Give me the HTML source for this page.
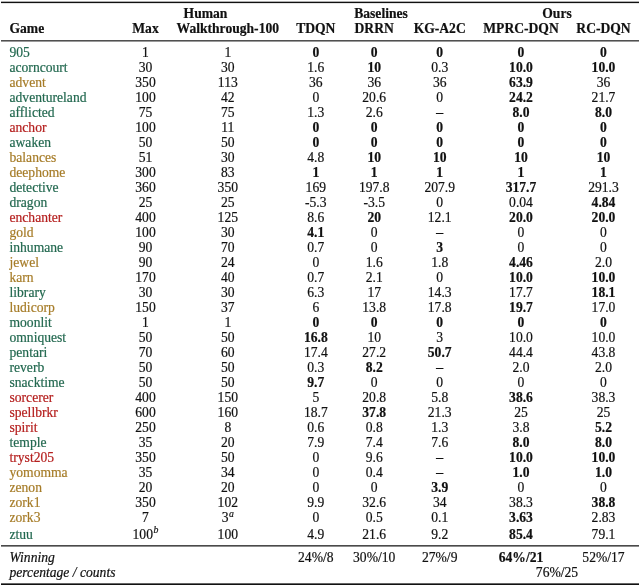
<!DOCTYPE html><html><head><meta charset="utf-8"><style>
html,body{margin:0;padding:0;background:#fff;}
body{width:640px;height:585px;position:relative;overflow:hidden;font-family:"Liberation Serif",serif;font-size:13.6px;color:#111;}
.t{position:absolute;white-space:nowrap;line-height:1;-webkit-text-stroke:0.2px currentColor;}
#w{position:absolute;left:0;top:0;width:640px;height:585px;will-change:transform;}
.c{transform:translateX(-50%);}
.b{font-weight:bold;}
.d{-webkit-text-stroke:0.5px currentColor;}
.i{font-style:italic;}
.r{position:absolute;left:0.7px;width:638.3px;background:#111;}
sup{font-size:72%;font-style:italic;vertical-align:baseline;position:relative;top:-0.52em;line-height:0;margin-left:0.6px;}

</style></head><body><div id="w">
<div class="r" style="top:1px;height:1px;background:#b0b0b0"></div>
<div class="r" style="top:2px;height:1px;background:#111"></div>
<div class="r" style="top:3px;height:1px;background:#e4e4e4"></div>
<div class="r" style="top:40px;height:1px;background:#505050"></div>
<div class="r" style="top:41px;height:1px;background:#9a9a9a"></div>
<div class="r" style="top:545px;height:1px;background:#4a4a4a"></div>
<div class="r" style="top:546px;height:1px;background:#8c8c8c"></div>
<div class="r" style="top:583px;height:1px;background:#666"></div>
<div class="r" style="top:584px;height:1px;background:#111"></div>
<div class="t b" style="left:9.5px;top:22.28px;">Game</div>
<div class="t b c" style="left:145.5px;top:22.28px;">Max</div>
<div class="t b c" style="left:205.5px;top:7.28px;">Human</div>
<div class="t b c" style="left:227.8px;top:22.28px;">Walkthrough-100</div>
<div class="t b c" style="left:381px;top:7.28px;">Baselines</div>
<div class="t b c" style="left:315.8px;top:22.28px;">TDQN</div>
<div class="t b c" style="left:374.2px;top:22.28px;">DRRN</div>
<div class="t b c" style="left:439.7px;top:22.28px;">KG-A2C</div>
<div class="t b c" style="left:557px;top:7.28px;">Ours</div>
<div class="t b c" style="left:521px;top:22.28px;">MPRC-DQN</div>
<div class="t b c" style="left:603.5px;top:22.28px;">RC-DQN</div>
<div class="t " style="left:9.5px;top:45.50px;color:#22684f">905</div>
<div class="t c" style="left:145.5px;top:45.50px;">1</div>
<div class="t c" style="left:227.8px;top:45.50px;">1</div>
<div class="t c b" style="left:315.8px;top:45.50px;">0</div>
<div class="t c b" style="left:374.2px;top:45.50px;">0</div>
<div class="t c b" style="left:439.7px;top:45.50px;">0</div>
<div class="t c b" style="left:521px;top:45.50px;">0</div>
<div class="t c b" style="left:603.5px;top:45.50px;">0</div>
<div class="t " style="left:9.5px;top:60.53px;color:#22684f">acorncourt</div>
<div class="t c" style="left:145.5px;top:60.53px;">30</div>
<div class="t c" style="left:227.8px;top:60.53px;">30</div>
<div class="t c" style="left:315.8px;top:60.53px;">1.6</div>
<div class="t c b" style="left:374.2px;top:60.53px;">10</div>
<div class="t c" style="left:439.7px;top:60.53px;">0.3</div>
<div class="t c b" style="left:521px;top:60.53px;">10.0</div>
<div class="t c b" style="left:603.5px;top:60.53px;">10.0</div>
<div class="t " style="left:9.5px;top:75.56px;color:#a67c28">advent</div>
<div class="t c" style="left:145.5px;top:75.56px;">350</div>
<div class="t c" style="left:227.8px;top:75.56px;">113</div>
<div class="t c" style="left:315.8px;top:75.56px;">36</div>
<div class="t c" style="left:374.2px;top:75.56px;">36</div>
<div class="t c" style="left:439.7px;top:75.56px;">36</div>
<div class="t c b" style="left:521px;top:75.56px;">63.9</div>
<div class="t c" style="left:603.5px;top:75.56px;">36</div>
<div class="t " style="left:9.5px;top:90.59px;color:#22684f">adventureland</div>
<div class="t c" style="left:145.5px;top:90.59px;">100</div>
<div class="t c" style="left:227.8px;top:90.59px;">42</div>
<div class="t c" style="left:315.8px;top:90.59px;">0</div>
<div class="t c" style="left:374.2px;top:90.59px;">20.6</div>
<div class="t c" style="left:439.7px;top:90.59px;">0</div>
<div class="t c b" style="left:521px;top:90.59px;">24.2</div>
<div class="t c" style="left:603.5px;top:90.59px;">21.7</div>
<div class="t " style="left:9.5px;top:105.62px;color:#22684f">afflicted</div>
<div class="t c" style="left:145.5px;top:105.62px;">75</div>
<div class="t c" style="left:227.8px;top:105.62px;">75</div>
<div class="t c" style="left:315.8px;top:105.62px;">1.3</div>
<div class="t c" style="left:374.2px;top:105.62px;">2.6</div>
<div class="t c d" style="left:439.7px;top:105.62px;">–</div>
<div class="t c b" style="left:521px;top:105.62px;">8.0</div>
<div class="t c b" style="left:603.5px;top:105.62px;">8.0</div>
<div class="t " style="left:9.5px;top:120.65px;color:#b5201f">anchor</div>
<div class="t c" style="left:145.5px;top:120.65px;">100</div>
<div class="t c" style="left:227.8px;top:120.65px;">11</div>
<div class="t c b" style="left:315.8px;top:120.65px;">0</div>
<div class="t c b" style="left:374.2px;top:120.65px;">0</div>
<div class="t c b" style="left:439.7px;top:120.65px;">0</div>
<div class="t c b" style="left:521px;top:120.65px;">0</div>
<div class="t c b" style="left:603.5px;top:120.65px;">0</div>
<div class="t " style="left:9.5px;top:135.68px;color:#22684f">awaken</div>
<div class="t c" style="left:145.5px;top:135.68px;">50</div>
<div class="t c" style="left:227.8px;top:135.68px;">50</div>
<div class="t c b" style="left:315.8px;top:135.68px;">0</div>
<div class="t c b" style="left:374.2px;top:135.68px;">0</div>
<div class="t c b" style="left:439.7px;top:135.68px;">0</div>
<div class="t c b" style="left:521px;top:135.68px;">0</div>
<div class="t c b" style="left:603.5px;top:135.68px;">0</div>
<div class="t " style="left:9.5px;top:150.71px;color:#a67c28">balances</div>
<div class="t c" style="left:145.5px;top:150.71px;">51</div>
<div class="t c" style="left:227.8px;top:150.71px;">30</div>
<div class="t c" style="left:315.8px;top:150.71px;">4.8</div>
<div class="t c b" style="left:374.2px;top:150.71px;">10</div>
<div class="t c b" style="left:439.7px;top:150.71px;">10</div>
<div class="t c b" style="left:521px;top:150.71px;">10</div>
<div class="t c b" style="left:603.5px;top:150.71px;">10</div>
<div class="t " style="left:9.5px;top:165.74px;color:#a67c28">deephome</div>
<div class="t c" style="left:145.5px;top:165.74px;">300</div>
<div class="t c" style="left:227.8px;top:165.74px;">83</div>
<div class="t c b" style="left:315.8px;top:165.74px;">1</div>
<div class="t c b" style="left:374.2px;top:165.74px;">1</div>
<div class="t c b" style="left:439.7px;top:165.74px;">1</div>
<div class="t c b" style="left:521px;top:165.74px;">1</div>
<div class="t c b" style="left:603.5px;top:165.74px;">1</div>
<div class="t " style="left:9.5px;top:180.77px;color:#22684f">detective</div>
<div class="t c" style="left:145.5px;top:180.77px;">360</div>
<div class="t c" style="left:227.8px;top:180.77px;">350</div>
<div class="t c" style="left:315.8px;top:180.77px;">169</div>
<div class="t c" style="left:374.2px;top:180.77px;">197.8</div>
<div class="t c" style="left:439.7px;top:180.77px;">207.9</div>
<div class="t c b" style="left:521px;top:180.77px;">317.7</div>
<div class="t c" style="left:603.5px;top:180.77px;">291.3</div>
<div class="t " style="left:9.5px;top:195.80px;color:#22684f">dragon</div>
<div class="t c" style="left:145.5px;top:195.80px;">25</div>
<div class="t c" style="left:227.8px;top:195.80px;">25</div>
<div class="t c" style="left:315.8px;top:195.80px;">-5.3</div>
<div class="t c" style="left:374.2px;top:195.80px;">-3.5</div>
<div class="t c" style="left:439.7px;top:195.80px;">0</div>
<div class="t c" style="left:521px;top:195.80px;">0.04</div>
<div class="t c b" style="left:603.5px;top:195.80px;">4.84</div>
<div class="t " style="left:9.5px;top:210.83px;color:#b5201f">enchanter</div>
<div class="t c" style="left:145.5px;top:210.83px;">400</div>
<div class="t c" style="left:227.8px;top:210.83px;">125</div>
<div class="t c" style="left:315.8px;top:210.83px;">8.6</div>
<div class="t c b" style="left:374.2px;top:210.83px;">20</div>
<div class="t c" style="left:439.7px;top:210.83px;">12.1</div>
<div class="t c b" style="left:521px;top:210.83px;">20.0</div>
<div class="t c b" style="left:603.5px;top:210.83px;">20.0</div>
<div class="t " style="left:9.5px;top:225.86px;color:#a67c28">gold</div>
<div class="t c" style="left:145.5px;top:225.86px;">100</div>
<div class="t c" style="left:227.8px;top:225.86px;">30</div>
<div class="t c b" style="left:315.8px;top:225.86px;">4.1</div>
<div class="t c" style="left:374.2px;top:225.86px;">0</div>
<div class="t c d" style="left:439.7px;top:225.86px;">–</div>
<div class="t c" style="left:521px;top:225.86px;">0</div>
<div class="t c" style="left:603.5px;top:225.86px;">0</div>
<div class="t " style="left:9.5px;top:240.89px;color:#22684f">inhumane</div>
<div class="t c" style="left:145.5px;top:240.89px;">90</div>
<div class="t c" style="left:227.8px;top:240.89px;">70</div>
<div class="t c" style="left:315.8px;top:240.89px;">0.7</div>
<div class="t c" style="left:374.2px;top:240.89px;">0</div>
<div class="t c b" style="left:439.7px;top:240.89px;">3</div>
<div class="t c" style="left:521px;top:240.89px;">0</div>
<div class="t c" style="left:603.5px;top:240.89px;">0</div>
<div class="t " style="left:9.5px;top:255.92px;color:#a67c28">jewel</div>
<div class="t c" style="left:145.5px;top:255.92px;">90</div>
<div class="t c" style="left:227.8px;top:255.92px;">24</div>
<div class="t c" style="left:315.8px;top:255.92px;">0</div>
<div class="t c" style="left:374.2px;top:255.92px;">1.6</div>
<div class="t c" style="left:439.7px;top:255.92px;">1.8</div>
<div class="t c b" style="left:521px;top:255.92px;">4.46</div>
<div class="t c" style="left:603.5px;top:255.92px;">2.0</div>
<div class="t " style="left:9.5px;top:270.95px;color:#a67c28">karn</div>
<div class="t c" style="left:145.5px;top:270.95px;">170</div>
<div class="t c" style="left:227.8px;top:270.95px;">40</div>
<div class="t c" style="left:315.8px;top:270.95px;">0.7</div>
<div class="t c" style="left:374.2px;top:270.95px;">2.1</div>
<div class="t c" style="left:439.7px;top:270.95px;">0</div>
<div class="t c b" style="left:521px;top:270.95px;">10.0</div>
<div class="t c b" style="left:603.5px;top:270.95px;">10.0</div>
<div class="t " style="left:9.5px;top:285.98px;color:#22684f">library</div>
<div class="t c" style="left:145.5px;top:285.98px;">30</div>
<div class="t c" style="left:227.8px;top:285.98px;">30</div>
<div class="t c" style="left:315.8px;top:285.98px;">6.3</div>
<div class="t c" style="left:374.2px;top:285.98px;">17</div>
<div class="t c" style="left:439.7px;top:285.98px;">14.3</div>
<div class="t c" style="left:521px;top:285.98px;">17.7</div>
<div class="t c b" style="left:603.5px;top:285.98px;">18.1</div>
<div class="t " style="left:9.5px;top:301.01px;color:#a67c28">ludicorp</div>
<div class="t c" style="left:145.5px;top:301.01px;">150</div>
<div class="t c" style="left:227.8px;top:301.01px;">37</div>
<div class="t c" style="left:315.8px;top:301.01px;">6</div>
<div class="t c" style="left:374.2px;top:301.01px;">13.8</div>
<div class="t c" style="left:439.7px;top:301.01px;">17.8</div>
<div class="t c b" style="left:521px;top:301.01px;">19.7</div>
<div class="t c" style="left:603.5px;top:301.01px;">17.0</div>
<div class="t " style="left:9.5px;top:316.04px;color:#22684f">moonlit</div>
<div class="t c" style="left:145.5px;top:316.04px;">1</div>
<div class="t c" style="left:227.8px;top:316.04px;">1</div>
<div class="t c b" style="left:315.8px;top:316.04px;">0</div>
<div class="t c b" style="left:374.2px;top:316.04px;">0</div>
<div class="t c b" style="left:439.7px;top:316.04px;">0</div>
<div class="t c b" style="left:521px;top:316.04px;">0</div>
<div class="t c b" style="left:603.5px;top:316.04px;">0</div>
<div class="t " style="left:9.5px;top:331.07px;color:#22684f">omniquest</div>
<div class="t c" style="left:145.5px;top:331.07px;">50</div>
<div class="t c" style="left:227.8px;top:331.07px;">50</div>
<div class="t c b" style="left:315.8px;top:331.07px;">16.8</div>
<div class="t c" style="left:374.2px;top:331.07px;">10</div>
<div class="t c" style="left:439.7px;top:331.07px;">3</div>
<div class="t c" style="left:521px;top:331.07px;">10.0</div>
<div class="t c" style="left:603.5px;top:331.07px;">10.0</div>
<div class="t " style="left:9.5px;top:346.10px;color:#22684f">pentari</div>
<div class="t c" style="left:145.5px;top:346.10px;">70</div>
<div class="t c" style="left:227.8px;top:346.10px;">60</div>
<div class="t c" style="left:315.8px;top:346.10px;">17.4</div>
<div class="t c" style="left:374.2px;top:346.10px;">27.2</div>
<div class="t c b" style="left:439.7px;top:346.10px;">50.7</div>
<div class="t c" style="left:521px;top:346.10px;">44.4</div>
<div class="t c" style="left:603.5px;top:346.10px;">43.8</div>
<div class="t " style="left:9.5px;top:361.13px;color:#22684f">reverb</div>
<div class="t c" style="left:145.5px;top:361.13px;">50</div>
<div class="t c" style="left:227.8px;top:361.13px;">50</div>
<div class="t c" style="left:315.8px;top:361.13px;">0.3</div>
<div class="t c b" style="left:374.2px;top:361.13px;">8.2</div>
<div class="t c d" style="left:439.7px;top:361.13px;">–</div>
<div class="t c" style="left:521px;top:361.13px;">2.0</div>
<div class="t c" style="left:603.5px;top:361.13px;">2.0</div>
<div class="t " style="left:9.5px;top:376.16px;color:#22684f">snacktime</div>
<div class="t c" style="left:145.5px;top:376.16px;">50</div>
<div class="t c" style="left:227.8px;top:376.16px;">50</div>
<div class="t c b" style="left:315.8px;top:376.16px;">9.7</div>
<div class="t c" style="left:374.2px;top:376.16px;">0</div>
<div class="t c" style="left:439.7px;top:376.16px;">0</div>
<div class="t c" style="left:521px;top:376.16px;">0</div>
<div class="t c" style="left:603.5px;top:376.16px;">0</div>
<div class="t " style="left:9.5px;top:391.19px;color:#b5201f">sorcerer</div>
<div class="t c" style="left:145.5px;top:391.19px;">400</div>
<div class="t c" style="left:227.8px;top:391.19px;">150</div>
<div class="t c" style="left:315.8px;top:391.19px;">5</div>
<div class="t c" style="left:374.2px;top:391.19px;">20.8</div>
<div class="t c" style="left:439.7px;top:391.19px;">5.8</div>
<div class="t c b" style="left:521px;top:391.19px;">38.6</div>
<div class="t c" style="left:603.5px;top:391.19px;">38.3</div>
<div class="t " style="left:9.5px;top:406.22px;color:#b5201f">spellbrkr</div>
<div class="t c" style="left:145.5px;top:406.22px;">600</div>
<div class="t c" style="left:227.8px;top:406.22px;">160</div>
<div class="t c" style="left:315.8px;top:406.22px;">18.7</div>
<div class="t c b" style="left:374.2px;top:406.22px;">37.8</div>
<div class="t c" style="left:439.7px;top:406.22px;">21.3</div>
<div class="t c" style="left:521px;top:406.22px;">25</div>
<div class="t c" style="left:603.5px;top:406.22px;">25</div>
<div class="t " style="left:9.5px;top:421.25px;color:#b5201f">spirit</div>
<div class="t c" style="left:145.5px;top:421.25px;">250</div>
<div class="t c" style="left:227.8px;top:421.25px;">8</div>
<div class="t c" style="left:315.8px;top:421.25px;">0.6</div>
<div class="t c" style="left:374.2px;top:421.25px;">0.8</div>
<div class="t c" style="left:439.7px;top:421.25px;">1.3</div>
<div class="t c" style="left:521px;top:421.25px;">3.8</div>
<div class="t c b" style="left:603.5px;top:421.25px;">5.2</div>
<div class="t " style="left:9.5px;top:436.28px;color:#22684f">temple</div>
<div class="t c" style="left:145.5px;top:436.28px;">35</div>
<div class="t c" style="left:227.8px;top:436.28px;">20</div>
<div class="t c" style="left:315.8px;top:436.28px;">7.9</div>
<div class="t c" style="left:374.2px;top:436.28px;">7.4</div>
<div class="t c" style="left:439.7px;top:436.28px;">7.6</div>
<div class="t c b" style="left:521px;top:436.28px;">8.0</div>
<div class="t c b" style="left:603.5px;top:436.28px;">8.0</div>
<div class="t " style="left:9.5px;top:451.31px;color:#b5201f">tryst205</div>
<div class="t c" style="left:145.5px;top:451.31px;">350</div>
<div class="t c" style="left:227.8px;top:451.31px;">50</div>
<div class="t c" style="left:315.8px;top:451.31px;">0</div>
<div class="t c" style="left:374.2px;top:451.31px;">9.6</div>
<div class="t c d" style="left:439.7px;top:451.31px;">–</div>
<div class="t c b" style="left:521px;top:451.31px;">10.0</div>
<div class="t c b" style="left:603.5px;top:451.31px;">10.0</div>
<div class="t " style="left:9.5px;top:466.34px;color:#a67c28">yomomma</div>
<div class="t c" style="left:145.5px;top:466.34px;">35</div>
<div class="t c" style="left:227.8px;top:466.34px;">34</div>
<div class="t c" style="left:315.8px;top:466.34px;">0</div>
<div class="t c" style="left:374.2px;top:466.34px;">0.4</div>
<div class="t c d" style="left:439.7px;top:466.34px;">–</div>
<div class="t c b" style="left:521px;top:466.34px;">1.0</div>
<div class="t c b" style="left:603.5px;top:466.34px;">1.0</div>
<div class="t " style="left:9.5px;top:481.37px;color:#a67c28">zenon</div>
<div class="t c" style="left:145.5px;top:481.37px;">20</div>
<div class="t c" style="left:227.8px;top:481.37px;">20</div>
<div class="t c" style="left:315.8px;top:481.37px;">0</div>
<div class="t c" style="left:374.2px;top:481.37px;">0</div>
<div class="t c b" style="left:439.7px;top:481.37px;">3.9</div>
<div class="t c" style="left:521px;top:481.37px;">0</div>
<div class="t c" style="left:603.5px;top:481.37px;">0</div>
<div class="t " style="left:9.5px;top:496.40px;color:#a67c28">zork1</div>
<div class="t c" style="left:145.5px;top:496.40px;">350</div>
<div class="t c" style="left:227.8px;top:496.40px;">102</div>
<div class="t c" style="left:315.8px;top:496.40px;">9.9</div>
<div class="t c" style="left:374.2px;top:496.40px;">32.6</div>
<div class="t c" style="left:439.7px;top:496.40px;">34</div>
<div class="t c" style="left:521px;top:496.40px;">38.3</div>
<div class="t c b" style="left:603.5px;top:496.40px;">38.8</div>
<div class="t " style="left:9.5px;top:511.43px;color:#a67c28">zork3</div>
<div class="t c" style="left:145.5px;top:511.43px;">7</div>
<div class="t c" style="left:227.8px;top:511.43px;">3<sup>a</sup></div>
<div class="t c" style="left:315.8px;top:511.43px;">0</div>
<div class="t c" style="left:374.2px;top:511.43px;">0.5</div>
<div class="t c" style="left:439.7px;top:511.43px;">0.1</div>
<div class="t c b" style="left:521px;top:511.43px;">3.63</div>
<div class="t c" style="left:603.5px;top:511.43px;">2.83</div>
<div class="t " style="left:9.5px;top:527.56px;color:#22684f">ztuu</div>
<div class="t c" style="left:145.5px;top:527.56px;">100<sup>b</sup></div>
<div class="t c" style="left:227.8px;top:527.56px;">100</div>
<div class="t c" style="left:315.8px;top:527.56px;">4.9</div>
<div class="t c" style="left:374.2px;top:527.56px;">21.6</div>
<div class="t c" style="left:439.7px;top:527.56px;">9.2</div>
<div class="t c b" style="left:521px;top:527.56px;">85.4</div>
<div class="t c" style="left:603.5px;top:527.56px;">79.1</div>
<div class="t i" style="left:9.5px;top:550.88px;">Winning</div>
<div class="t i" style="left:9.5px;top:565.78px;">percentage / counts</div>
<div class="t c" style="left:315.8px;top:550.88px;">24%/8</div>
<div class="t c" style="left:374.2px;top:550.88px;">30%/10</div>
<div class="t c" style="left:439.7px;top:550.88px;">27%/9</div>
<div class="t c b" style="left:521px;top:550.88px;">64%/21</div>
<div class="t c" style="left:603.5px;top:550.88px;">52%/17</div>
<div class="t c" style="left:557px;top:565.78px;">76%/25</div>
</div></body></html>
